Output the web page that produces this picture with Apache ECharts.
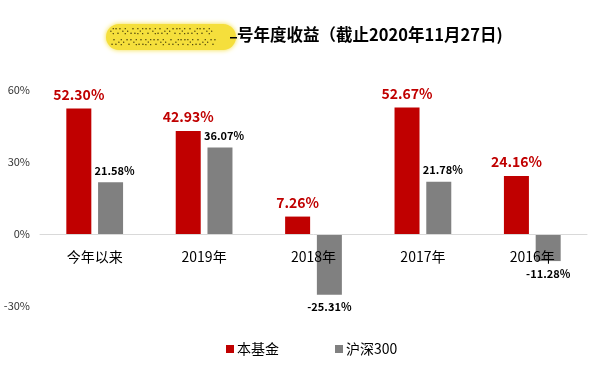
<!DOCTYPE html>
<html><head><meta charset="utf-8">
<script src="https://cdn.jsdelivr.net/npm/echarts@6/dist/echarts.min.js"></script>
<style>html,body{margin:0;padding:0;background:#fff}#c{width:594px;height:365px}</style>
</head><body><div id="c"></div>
<script>
var categories = ['今年以来', '2019年', '2018年', '2017年', '2016年'];
var fundValues = [52.30, 42.93, 7.26, 52.67, 24.16];
var indexValues = [21.58, 36.07, -25.31, 21.78, -11.28];
var seriesNames = ['本基金', '沪深300'];
var yTicks = [-30, 0, 30, 60];
var titleText = '号年度收益（截止2020年11月27日)';

var FONT = '"Noto Sans CJK SC", "Microsoft YaHei", sans-serif';
var chart = echarts.init(document.getElementById('c'), null, {renderer: 'canvas'});
function pct(v) { return v.toFixed(2) + '%'; }
function withLabels(values, offsetPos) {
  return values.map(function (v) {
    return v < 0
      ? {value: v, label: {position: 'bottom', distance: 7, offset: [0, 0]}}
      : {value: v, label: {position: 'top', offset: offsetPos}};
  });
}
var option = {
  animation: false,
  textStyle: {fontFamily: FONT},
  graphic: [
    {type: 'rect', shape: {x: 106, y: 24, width: 130, height: 26, r: 13},
     style: {fill: '#f5df3c', shadowBlur: 5, shadowColor: '#f5df3c'}, z: 1},
    {type: 'text', left: 110, top: 25, z: 2,
     style: {text: '⁖∵⁘∴⁙∵⁖∴⁘∵⁙∴⁖∵⁘\n∴⁘∵⁖∴⁙∵⁘∴⁖∵⁙∴⁘∵', font: 'bold 8px ' + FONT, fill: '#2a2200', lineHeight: 11}},
    {type: 'rect', shape: {x: 230, y: 37, width: 7, height: 1.5}, style: {fill: '#000'}, z: 3},
    {type: 'text', left: 237, top: 26, z: 3,
     style: {text: titleText, font: 'bold 16.5px ' + FONT, fill: '#000'}}
  ],
  legend: {
    data: seriesNames, left: 221, top: 337, itemWidth: 8, itemHeight: 8, itemGap: 56,
    icon: 'rect', textStyle: {fontSize: 14, color: '#000', fontFamily: FONT, padding: [0, 0, 0, -2]}
  },
  grid: {left: 40, right: 7, top: 90, bottom: 59},
  xAxis: {
    type: 'category', data: categories, z: 10,
    axisLine: {onZero: true, lineStyle: {color: '#d9d9d9', width: 1}},
    axisTick: {show: false},
    axisLabel: {fontSize: 14, color: '#000', margin: -56, fontFamily: FONT}
  },
  yAxis: {
    type: 'value', min: yTicks[0], max: yTicks[yTicks.length - 1], interval: 30,
    splitLine: {show: false}, axisLine: {show: false}, axisTick: {show: false},
    axisLabel: {fontSize: 11, color: '#333', margin: 10, formatter: '{value}%', fontFamily: FONT}
  },
  series: [
    {name: seriesNames[0], type: 'bar', data: withLabels(fundValues, [0, 0]), barWidth: 25, barGap: '27%',
     itemStyle: {color: '#c00000'},
     label: {show: true, position: 'top', distance: 7, formatter: function (p) { return pct(p.value); },
       fontSize: 14, fontWeight: 'bold', color: '#c00000', fontFamily: FONT}},
    {name: seriesNames[1], type: 'bar', data: withLabels(indexValues, [4, 0]), barWidth: 25,
     itemStyle: {color: '#808080'},
     label: {show: true, position: 'top', distance: 6, formatter: function (p) { return pct(p.value); },
       fontSize: 11, fontWeight: 'bold', color: '#000', fontFamily: FONT}}
  ]
};
chart.setOption(option);
</script></body></html>
